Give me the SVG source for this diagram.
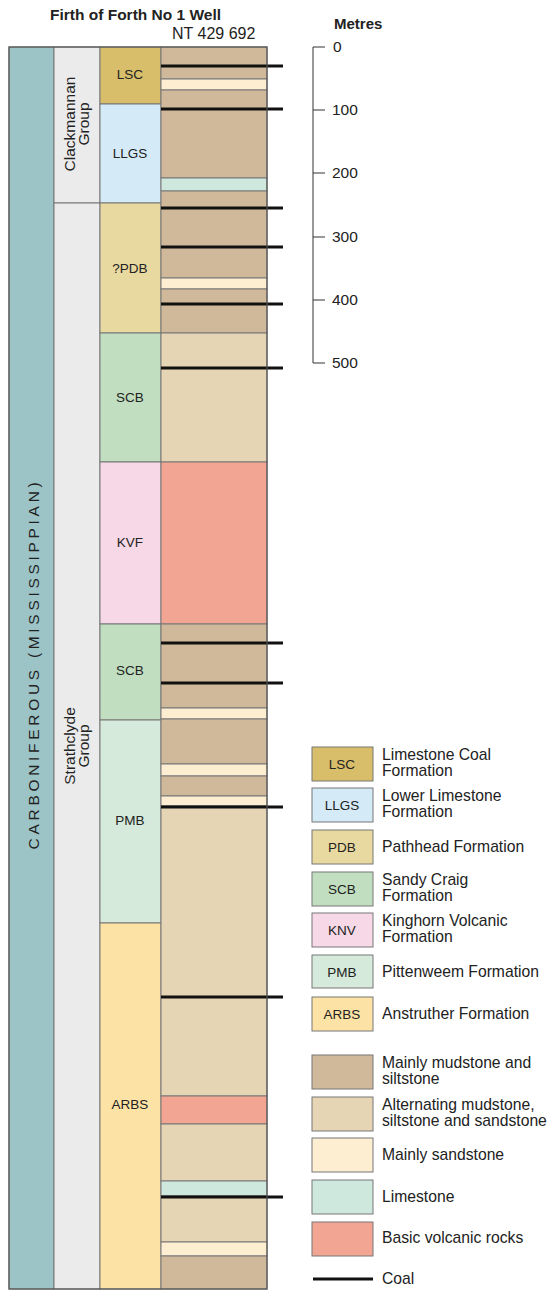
<svg xmlns="http://www.w3.org/2000/svg" width="550" height="1290" viewBox="0 0 550 1290">
<style>
text{font-family:"Liberation Sans",Arial,sans-serif;fill:#222}
.t{font-size:15.5px}
.lg{font-size:15.7px}
.b{font-weight:bold}
.f{font-size:13.5px;text-anchor:middle}
.bx{stroke:#777;stroke-width:1}
.coal{stroke:#111;stroke-width:3}
.sc{stroke:#333;stroke-width:1;fill:none}
.mud{fill:#d0b99a}.alt{fill:#e6d5b5}.snd{fill:#fdeed2}.lst{fill:#cfe8de}.bas{fill:#f2a592}
</style>
<text class="t b" x="50" y="20">Firth of Forth No 1 Well</text>
<text x="172" y="39" font-size="16">NT 429 692</text>

<g id="era">
<rect class="bx" x="9" y="47" width="45" height="1242" fill="#9cc4c6"/>
<text class="t" transform="translate(38.5,664) rotate(-90)" text-anchor="middle" letter-spacing="3.7">CARBONIFEROUS (MISSISSIPPIAN)</text>
</g>
<g id="groups">
<rect class="bx" x="54" y="47" width="46" height="156" fill="#ebebeb"/>
<text class="t" transform="translate(75,124) rotate(-90)" text-anchor="middle">Clackmannan</text>
<text class="t" transform="translate(89,124) rotate(-90)" text-anchor="middle">Group</text>
<rect class="bx" x="54" y="203" width="46" height="1086" fill="#ebebeb"/>
<text class="t" transform="translate(75,746) rotate(-90)" text-anchor="middle">Strathclyde</text>
<text class="t" transform="translate(89,746) rotate(-90)" text-anchor="middle">Group</text>
</g>
<g id="formations">
<rect class="bx" x="100" y="47" width="61" height="57" fill="#d8be6b"/>
<text class="f" x="130" y="79">LSC</text>
<rect class="bx" x="100" y="104" width="61" height="99" fill="#d4eaf6"/>
<text class="f" x="130" y="158">LLGS</text>
<rect class="bx" x="100" y="203" width="61" height="130" fill="#e8d9a1"/>
<text class="f" x="130" y="273">?PDB</text>
<rect class="bx" x="100" y="333" width="61" height="129" fill="#c1dfc0"/>
<text class="f" x="130" y="402">SCB</text>
<rect class="bx" x="100" y="462" width="61" height="162" fill="#f7d8e6"/>
<text class="f" x="130" y="547">KVF</text>
<rect class="bx" x="100" y="624" width="61" height="96" fill="#c1dfc0"/>
<text class="f" x="130" y="675">SCB</text>
<rect class="bx" x="100" y="720" width="61" height="203" fill="#d5eadb"/>
<text class="f" x="130" y="825">PMB</text>
<rect class="bx" x="100" y="923" width="61" height="366" fill="#fde2a5"/>
<text class="f" x="130" y="1109">ARBS</text>
</g>
<g id="lithology">
<rect class="bx mud" x="161" y="47" width="106" height="32"/>
<rect class="bx snd" x="161" y="79" width="106" height="11"/>
<rect class="bx mud" x="161" y="90" width="106" height="88"/>
<rect class="bx lst" x="161" y="178" width="106" height="13"/>
<rect class="bx mud" x="161" y="191" width="106" height="87"/>
<rect class="bx snd" x="161" y="278" width="106" height="11"/>
<rect class="bx mud" x="161" y="289" width="106" height="44"/>
<rect class="bx alt" x="161" y="333" width="106" height="129"/>
<rect class="bx bas" x="161" y="462" width="106" height="162"/>
<rect class="bx mud" x="161" y="624" width="106" height="84"/>
<rect class="bx snd" x="161" y="708" width="106" height="11"/>
<rect class="bx mud" x="161" y="719" width="106" height="45"/>
<rect class="bx snd" x="161" y="764" width="106" height="12"/>
<rect class="bx mud" x="161" y="776" width="106" height="20"/>
<rect class="bx snd" x="161" y="796" width="106" height="10"/>
<rect class="bx alt" x="161" y="806" width="106" height="290"/>
<rect class="bx bas" x="161" y="1096" width="106" height="28"/>
<rect class="bx alt" x="161" y="1124" width="106" height="57"/>
<rect class="bx lst" x="161" y="1181" width="106" height="15"/>
<rect class="bx alt" x="161" y="1196" width="106" height="46"/>
<rect class="bx snd" x="161" y="1242" width="106" height="14"/>
<rect class="bx mud" x="161" y="1256" width="106" height="33"/>
</g>
<g id="coals">
<line class="coal" x1="161" y1="66" x2="283" y2="66"/>
<line class="coal" x1="161" y1="109" x2="283" y2="109"/>
<line class="coal" x1="161" y1="208" x2="283" y2="208"/>
<line class="coal" x1="161" y1="247" x2="283" y2="247"/>
<line class="coal" x1="161" y1="304" x2="283" y2="304"/>
<line class="coal" x1="161" y1="368" x2="283" y2="368"/>
<line class="coal" x1="161" y1="643" x2="283" y2="643"/>
<line class="coal" x1="161" y1="683" x2="283" y2="683"/>
<line class="coal" x1="161" y1="807" x2="283" y2="807"/>
<line class="coal" x1="161" y1="997" x2="283" y2="997"/>
<line class="coal" x1="161" y1="1197" x2="283" y2="1197"/>
</g>
<rect x="9" y="47" width="258" height="1242" fill="none" stroke="#555" stroke-width="1.2"/>

<g id="scale">
<text class="b" x="334" y="29" font-size="15">Metres</text>
<path class="sc" d="M325 47H313V363H325M313 110H325M313 173H325M313 237H325M313 300H325"/>
<text class="t" x="333" y="52">0</text>
<text class="t" x="332" y="115">100</text>
<text class="t" x="332" y="178">200</text>
<text class="t" x="332" y="242">300</text>
<text class="t" x="332" y="305">400</text>
<text class="t" x="332" y="368">500</text>
</g>

<g id="legend">
<rect class="bx" x="312" y="747" width="61" height="34" fill="#d8be6b"/><text class="f" x="342" y="769">LSC</text>
<text class="lg" x="382" y="760">Limestone Coal</text><text class="lg" x="382" y="776">Formation</text>
<rect class="bx" x="312" y="788" width="61" height="34" fill="#d4eaf6"/><text class="f" x="342" y="810">LLGS</text>
<text class="lg" x="382" y="801">Lower Limestone</text><text class="lg" x="382" y="817">Formation</text>
<rect class="bx" x="312" y="830" width="61" height="34" fill="#e8d9a1"/><text class="f" x="342" y="852">PDB</text>
<text class="lg" x="382" y="852">Pathhead Formation</text>
<rect class="bx" x="312" y="872" width="61" height="34" fill="#c1dfc0"/><text class="f" x="342" y="894">SCB</text>
<text class="lg" x="382" y="885">Sandy Craig</text><text class="lg" x="382" y="901">Formation</text>
<rect class="bx" x="312" y="913" width="61" height="34" fill="#f7d8e6"/><text class="f" x="342" y="935">KNV</text>
<text class="lg" x="382" y="926">Kinghorn Volcanic</text><text class="lg" x="382" y="942">Formation</text>
<rect class="bx" x="312" y="955" width="61" height="33" fill="#d5eadb"/><text class="f" x="342" y="977">PMB</text>
<text class="lg" x="382" y="977">Pittenweem Formation</text>
<rect class="bx" x="312" y="997" width="61" height="34" fill="#fde2a5"/><text class="f" x="342" y="1019">ARBS</text>
<text class="lg" x="382" y="1019">Anstruther Formation</text>

<rect class="bx mud" x="312" y="1055" width="61" height="34"/>
<text class="lg" x="382" y="1068">Mainly mudstone and</text><text class="lg" x="382" y="1084">siltstone</text>
<rect class="bx alt" x="312" y="1097" width="61" height="34"/>
<text class="lg" x="382" y="1110">Alternating mudstone,</text><text class="lg" x="382" y="1126">siltstone and sandstone</text>
<rect class="bx snd" x="312" y="1138" width="61" height="34"/>
<text class="lg" x="382" y="1160">Mainly sandstone</text>
<rect class="bx lst" x="312" y="1180" width="61" height="34"/>
<text class="lg" x="382" y="1202">Limestone</text>
<rect class="bx bas" x="312" y="1222" width="61" height="34"/>
<text class="lg" x="382" y="1243">Basic volcanic rocks</text>
<line class="coal" x1="313" y1="1279" x2="373" y2="1279"/>
<text class="lg" x="382" y="1284">Coal</text>
</g>
</svg>
